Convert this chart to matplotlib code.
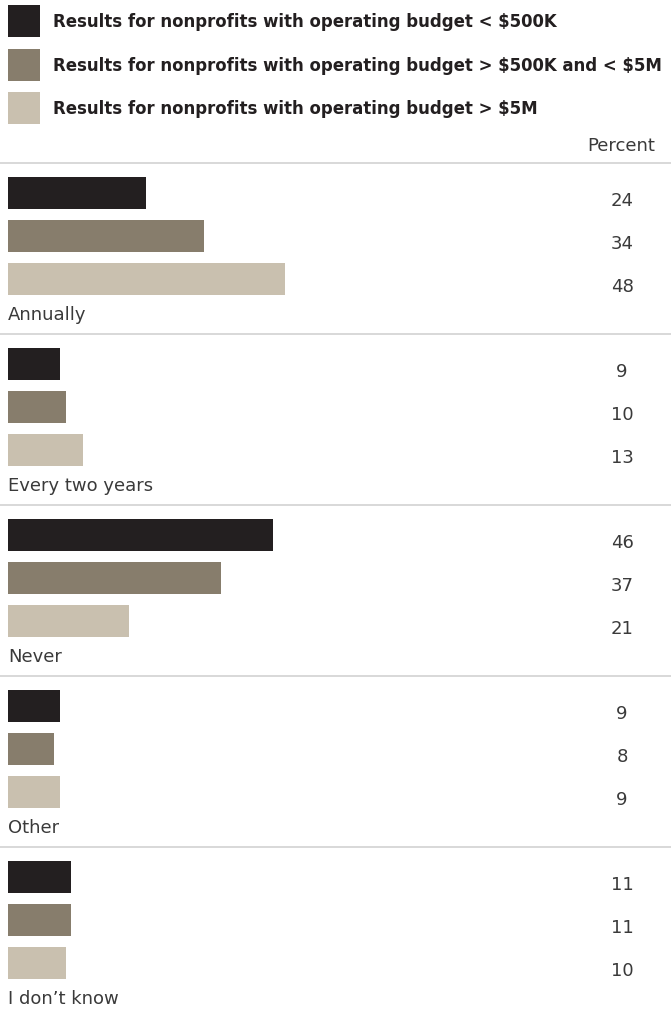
import matplotlib
import matplotlib.pyplot as plt

matplotlib.use("Agg")

DARK = "#231F20"
MID = "#877D6C"
LIGHT = "#C9C0AF"
RULE = "#D6D6D6"
TEXT = "#3A3A3A"

categories = ["Annually", "Every two years", "Never", "Other", "I don\u2019t know"]
series_names = [
    r"Results for nonprofits with operating budget < \$500K",
    r"Results for nonprofits with operating budget > \$500K and < \$5M",
    r"Results for nonprofits with operating budget > \$5M",
]
small = [24, 9, 46, 9, 11]
medium = [34, 10, 37, 8, 11]
large = [48, 13, 21, 9, 10]

series_values = [small, medium, large]
series_colors = [DARK, MID, LIGHT]

W, H = 671, 1013
PX_PER_PCT = 5.77
X0 = 8

fig = plt.figure(figsize=(W / 100, H / 100), dpi=100)
fig.patch.set_facecolor("white")
ax = fig.add_axes([0, 0, 1, 1])
ax.set_xlim(-X0 / PX_PER_PCT, (W - X0) / PX_PER_PCT)
ax.set_ylim(H, 0)
ax.axis("off")


def px(x):
    return (x - X0) / PX_PER_PCT


# legend
for i, (name, color) in enumerate(zip(series_names, series_colors)):
    top = 5 + i * 43.5
    ax.barh(top + 16, px(40), height=32, left=0, color=color, align="center")
    ax.text(px(53), top + 17, name, fontsize=13.2, fontweight="bold", family="DejaVu Sans",
            fontstretch="condensed", color=DARK, va="center", ha="left")

ax.text(px(655), 146, "Percent", fontsize=13, color=TEXT, va="center", ha="right")

GROUP = 171
for g, cat in enumerate(categories):
    rule_y = 163 + g * GROUP
    ax.plot([px(0), px(W)], [rule_y, rule_y], color=RULE, linewidth=1.3, solid_capstyle="butt")
    for s in range(3):
        center = rule_y + 30 + s * 43
        val = series_values[s][g]
        ax.barh(center, val, height=32, left=0, color=series_colors[s], align="center")
        ax.text(px(622), center + 8, str(val), fontsize=13, color=TEXT,
                va="center", ha="center")
    ax.text(px(8), rule_y + 152, cat, fontsize=13, color=TEXT, va="center", ha="left")

fig.savefig("out.png", dpi=100, facecolor="white")
